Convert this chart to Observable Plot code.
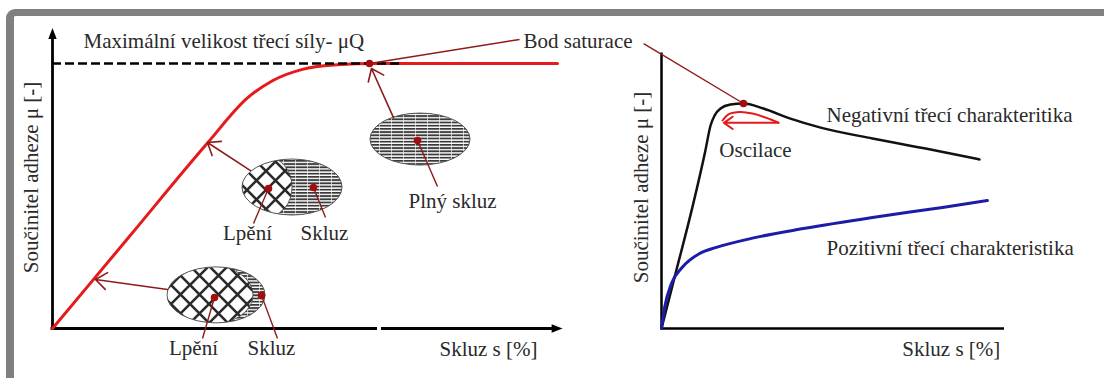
<!DOCTYPE html>
<html><head><meta charset="utf-8">
<script src="https://cdn.jsdelivr.net/npm/d3@7"></script>
<script src="https://cdn.jsdelivr.net/npm/@observablehq/plot@0.6"></script>
<style>
html,body{margin:0;padding:0;background:#fff;}
#wrap{position:relative;width:1104px;height:378px;overflow:hidden;}
#frame{position:absolute;left:6px;top:9px;right:-20px;bottom:-20px;border-top:7px solid #808080;border-left:8px solid #808080;border-top-left-radius:9px;pointer-events:none;}
#chart svg text{font-family:"Liberation Serif","Times New Roman",serif !important;}
</style></head><body><div id="wrap"><div id="chart"></div><div id="frame"></div></div>
<script>
// ---------- DATA (slip s in %, adhesion coefficient μ normalised to μmax = 1) ----------
// Left panel: adhesion curve
const leftSlip = [0, 15.5, 31, 39, 44, 50, 57, 64, 101];
const leftMu   = [0, 0.35, 0.70, 0.87, 0.935, 0.978, 0.995, 1.0, 1.0];
const muMax = 1.0;
// Right panel: negative friction characteristic
const negSlip = [0, 4.1, 9.0, 12.8, 14.3, 15.5, 17.2, 20.1, 23.9, 29.7, 37.6, 46.4, 61.5, 77.0, 92.7];
const negMu   = [0, 0.208, 0.457, 0.672, 0.766, 0.804, 0.830, 0.845, 0.849, 0.830, 0.792, 0.758, 0.717, 0.679, 0.638];
// Right panel: positive friction characteristic
const posSlip = [0, 0.9, 2.9, 6.0, 11.1, 16.0, 26.2, 41.4, 61.5, 81.9, 95.0];
const posMu   = [0, 0.079, 0.170, 0.230, 0.283, 0.306, 0.340, 0.377, 0.419, 0.457, 0.483];
// Right panel: oscillation loop
const oscSlip = [17.8, 19.5, 23.0, 26.5, 30.3, 34.1];
const oscMu   = [0.785, 0.808, 0.817, 0.811, 0.796, 0.777];
// Texts
const titleText = "Maximální velikost třecí síly- μQ";
const saturationText = "Bod saturace";
const yLabel = "Součinitel adheze μ [-]";
const xLabel = "Skluz s [%]";
const stickText = "Lpění";
const slipText = "Skluz";
const fullSlipText = "Plný skluz";
const negText = "Negativní třecí charakteritika";
const posText = "Pozitivní třecí charakteristika";
const oscText = "Oscilace";

// ---------- LAYOUT ----------
const R0 = 121.8, RK = 0.686;
const toLeft = s => R0 + s * RK;

const red = "#e41a1c", dark = "#8e1b1b", dotRed = "#a30d0d", ink = "#2a2a2a";
const font = "Liberation Serif";

const pts = (xs, ys, f = d => d) => xs.map((s, i) => ({x: f(s), y: ys[i]}));
const redCurve = pts(leftSlip, leftMu);
const negCurve = pts(negSlip, negMu, toLeft);
const posCurve = pts(posSlip, posMu, toLeft);
const oscCurve = pts(oscSlip, oscMu, toLeft);

const arrowUp = {draw(c){ c.moveTo(0,-6.6); c.lineTo(4.2,4.4); c.lineTo(-4.2,4.4); c.closePath(); }};
const arrowRight = {draw(c){ c.moveTo(6.6,0); c.lineTo(-4.4,4.2); c.lineTo(-4.4,-4.2); c.closePath(); }};

const ellipses = [
  {s: 32.8, m: 0.125, rx: 49, ry: 28, cx: -7, crx: 44},
  {s: 48.0, m: 0.532, rx: 50, ry: 28, cx: -25, crx: 25},
  {s: 73.6, m: 0.713, rx: 50, ry: 26, cx: null, crx: 0}
];
const ellipseMark = (index, {x, y}) => {
  const g = d3.create("svg:g");
  const defs = g.append("defs");
  const h = defs.append("pattern").attr("id","hatchH").attr("patternUnits","userSpaceOnUse").attr("width",12).attr("height",3.2);
  h.append("rect").attr("width",12).attr("height",3.2).attr("fill","#fff");
  h.append("rect").attr("width",12).attr("height",1.8).attr("fill","#3a3a3a");
  h.append("rect").attr("x",7).attr("width",0.9).attr("height",3.2).attr("fill","#fff").attr("opacity",0.7);
  const c = defs.append("pattern").attr("id","cross").attr("patternUnits","userSpaceOnUse").attr("width",19).attr("height",19);
  c.append("rect").attr("width",19).attr("height",19).attr("fill","#fff");
  c.append("path").attr("d","M0,0L19,19M19,0L0,19").attr("stroke","#2a2a2a").attr("stroke-width",2.6);
  ellipses.forEach((e, i) => {
    const px = x(e.s), py = y(e.m);
    defs.append("clipPath").attr("id","clipE"+i).append("ellipse")
      .attr("cx",px).attr("cy",py).attr("rx",e.rx).attr("ry",e.ry);
    g.append("ellipse").attr("cx",px).attr("cy",py).attr("rx",e.rx).attr("ry",e.ry).attr("fill","url(#hatchH)");
    if (e.cx !== null) {
      g.append("ellipse").attr("clip-path","url(#clipE"+i+")")
        .attr("cx",px + e.cx).attr("cy",py).attr("rx",e.crx).attr("ry",e.ry + 2)
        .attr("fill","url(#cross)").attr("stroke","#444").attr("stroke-width",0.8);
    }
    g.append("ellipse").attr("cx",px).attr("cy",py).attr("rx",e.rx).attr("ry",e.ry)
      .attr("fill","none").attr("stroke","#555").attr("stroke-width",1);
  });
  return g.node();
};

const T = (rows, opts) => Plot.text(rows, {x: "x", y: "y", text: "t", fontSize: 21, fontFamily: font, fill: ink, lineAnchor: "middle", ...opts});

const chart = Plot.plot({
  width: 1104, height: 378,
  marginTop: 0, marginRight: 0, marginBottom: 0, marginLeft: 0,
  x: {domain: [-10.4, 210.4], axis: null},
  y: {domain: [0, 1], range: [328, 63], axis: null},
  style: {background: "transparent", fontFamily: "Liberation Serif, serif"},
  marks: [
    Plot.ruleX([0], {y1: 0, y2: 1.1, stroke: "#000", strokeWidth: 2.8}),
    Plot.dot([{x: 0, y: 1.109}], {x: "x", y: "y", symbol: arrowUp, fill: "#000", stroke: "none"}),
    Plot.ruleY([0], {x1: -0.3, x2: 65, stroke: "#000", strokeWidth: 3}),
    Plot.ruleY([0], {x1: 65.8, x2: 100.5, stroke: "#000", strokeWidth: 3}),
    Plot.dot([{x: 100.7, y: 0}], {x: "x", y: "y", symbol: arrowRight, fill: "#000", stroke: "none"}),
    Plot.ruleX([toLeft(0)], {y1: 0, y2: 1.04, stroke: "#000", strokeWidth: 2.5}),
    Plot.ruleY([0], {x1: toLeft(0), x2: toLeft(100), stroke: "#000", strokeWidth: 2.5}),
    Plot.line(redCurve, {x: "x", y: "y", stroke: red, strokeWidth: 3, curve: "monotone-x"}),
    Plot.ruleY([muMax], {x1: 0, x2: 70, stroke: "#000", strokeWidth: 2.5, strokeDasharray: "9,4"}),
    Plot.line(negCurve, {x: "x", y: "y", stroke: "#111", strokeWidth: 2.5, curve: "monotone-x"}),
    Plot.line(posCurve, {x: "x", y: "y", stroke: "#1c1ca8", strokeWidth: 3, curve: "monotone-x"}),
    Plot.line(oscCurve, {x: "x", y: "y", stroke: red, strokeWidth: 2, curve: "catmull-rom"}),
    Plot.arrow([{x1: toLeft(34.1), x2: toLeft(18.2), y1: 0.776, y2: 0.776}], {x1: "x1", y1: "y1", x2: "x2", y2: "y2", stroke: red, strokeWidth: 2, headLength: 8, headAngle: 70}),
    ellipseMark,
    Plot.link([{x1: 63.4, y1: 1.0, x2: 93.4, y2: 1.0906}, {x1: toLeft(-5.2), y1: 1.075, x2: toLeft(23.9), y2: 0.849}],
      {x1: "x1", y1: "y1", x2: "x2", y2: "y2", stroke: dark, strokeWidth: 1.4}),
    Plot.arrow([
      {x1: 68.2, y1: 0.796, x2: 63.8, y2: 0.981},
      {x1: 39.6, y1: 0.596, x2: 31.0, y2: 0.702},
      {x1: 23.0, y1: 0.147, x2: 8.6, y2: 0.185}
    ], {x1: "x1", y1: "y1", x2: "x2", y2: "y2", stroke: dark, strokeWidth: 1.6, headLength: 13, headAngle: 75}),
    Plot.link([
      {x1: 73.0, y1: 0.709, x2: 77.0, y2: 0.536},
      {x1: 43.2, y1: 0.528, x2: 40.2, y2: 0.396},
      {x1: 52.2, y1: 0.532, x2: 54.6, y2: 0.419},
      {x1: 32.4, y1: 0.117, x2: 30.0, y2: -0.038},
      {x1: 41.8, y1: 0.125, x2: 45.0, y2: -0.038}
    ], {x1: "x1", y1: "y1", x2: "x2", y2: "y2", stroke: dark, strokeWidth: 1.4}),
    Plot.dot([
      {x: 63.4, y: 1.0}, {x: toLeft(23.9), y: 0.849}, {x: 73.0, y: 0.709},
      {x: 43.2, y: 0.528}, {x: 52.2, y: 0.532}, {x: 32.4, y: 0.117}, {x: 41.8, y: 0.125}
    ], {x: "x", y: "y", r: 3.8, fill: dotRed, stroke: "none"}),
    T([{x: 6.2, y: 1.083, t: titleText}, {x: 94.2, y: 1.083, t: saturationText},
       {x: toLeft(48.1), y: 0.804, t: negText}, {x: toLeft(48.1), y: 0.302, t: posText}], {textAnchor: "start"}),
    T([{x: 80, y: 0.479, t: fullSlipText},
       {x: 39, y: 0.358, t: stickText}, {x: 54.4, y: 0.358, t: slipText},
       {x: 28.2, y: -0.075, t: stickText}, {x: 43.8, y: -0.075, t: slipText},
       {x: 87.2, y: -0.079, t: xLabel}, {x: toLeft(84.5), y: -0.079, t: xLabel},
       {x: toLeft(27.4), y: 0.672, t: oscText}], {textAnchor: "middle"}),
    T([{x: -4.2, y: 0.57, t: yLabel}, {x: toLeft(-5.8), y: 0.532, t: yLabel}], {textAnchor: "middle", rotate: -90})
  ]
});
document.getElementById("chart").appendChild(chart);
</script></body></html>
